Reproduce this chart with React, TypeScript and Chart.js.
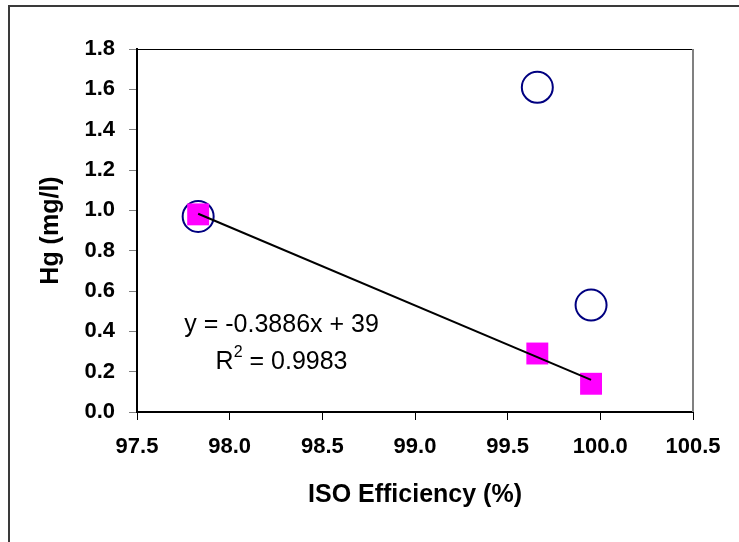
import React, { useEffect, useRef } from "react";
import { Chart, registerables } from "chart.js";

Chart.register(...registerables);

// ---- data ----
const pointX = [97.83, 99.66, 99.95];
const circleY = [0.97, 1.61, 0.53];
const squareY = [0.98, 0.29, 0.14];
const trendSlope = -0.3886;
const trendIntercept = 39;
const trendX = [97.83, 99.95];
const equationText = "y = -0.3886x + 39";
const r2Value = "0.9983";
const xTitle = "ISO Efficiency (%)";
const yTitle = "Hg (mg/l)";

const FONT = "'Liberation Sans', Arial, sans-serif";
const EQ = 25;
const SUP = 16;

const decorPlugin = {
  id: "decor",
  beforeDraw(chart: any) {
    const ctx = chart.ctx;
    ctx.save();
    ctx.fillStyle = "#ffffff";
    ctx.fillRect(0, 0, chart.width, chart.height);
    ctx.strokeStyle = "#3a3a3a";
    ctx.lineWidth = 2;
    ctx.strokeRect(9, 6, chart.width + 20, chart.height + 20);
    ctx.restore();
  },
  afterDraw(chart: any) {
    const ctx = chart.ctx;
    const a = chart.chartArea;
    ctx.save();
    ctx.strokeStyle = "#000";
    ctx.lineWidth = 1;
    ctx.beginPath();
    ctx.moveTo(a.left, a.top + 0.5);
    ctx.lineTo(a.right, a.top + 0.5);
    ctx.stroke();
    ctx.strokeStyle = "#808080";
    ctx.lineWidth = 2;
    ctx.beginPath();
    ctx.moveTo(a.right, a.top);
    ctx.lineTo(a.right, a.bottom);
    ctx.stroke();
    // equation text
    ctx.fillStyle = "#000";
    ctx.font = `${EQ}px ${FONT}`;
    ctx.textAlign = "center";
    ctx.textBaseline = "middle";
    const xs = chart.scales.x;
    const ys = chart.scales.y;
    const cx = xs.getPixelForValue(98.28);
    ctx.fillText(equationText, cx, ys.getPixelForValue(0.43));
    const part1 = "R";
    const part3 = " = " + r2Value;
    const w1 = ctx.measureText(part1).width;
    ctx.font = `${SUP}px ${FONT}`;
    const w2 = ctx.measureText("2").width;
    ctx.font = `${EQ}px ${FONT}`;
    const w3 = ctx.measureText(part3).width;
    const total = w1 + w2 + w3;
    let sx = cx - total / 2;
    const ry = ys.getPixelForValue(0.245);
    ctx.textAlign = "left";
    ctx.fillText(part1, sx, ry);
    sx += w1;
    ctx.font = `${SUP}px ${FONT}`;
    ctx.fillText("2", sx, ry - 10);
    sx += w2;
    ctx.font = `${EQ}px ${FONT}`;
    ctx.fillText(part3, sx, ry);
    ctx.restore();
  },
};

export default function App() {
  const ref = useRef<HTMLCanvasElement>(null);
  useEffect(() => {
    document.body.style.margin = "0";
    const circles = pointX.map((x, i) => ({ x, y: circleY[i] }));
    const squares = pointX.map((x, i) => ({ x, y: squareY[i] }));
    const trend = trendX.map((x) => ({ x, y: trendSlope * x + trendIntercept }));
    const chart = new Chart(ref.current as HTMLCanvasElement, {
      type: "scatter",
      data: {
        datasets: [
          {
            type: "line",
            data: trend,
            borderColor: "#000",
            borderWidth: 2,
            pointRadius: 0,
            fill: false,
            order: 0,
          } as any,
          {
            data: squares,
            pointStyle: "rect",
            pointRadius: 15.5,
            backgroundColor: "#ff00ff",
            borderWidth: 0,
            order: 1,
          },
          {
            data: circles,
            pointStyle: "circle",
            pointRadius: 15.5,
            backgroundColor: "rgba(255,255,255,0)",
            borderColor: "#000080",
            borderWidth: 2,
            order: 2,
          },
        ],
      },
      options: {
        responsive: false,
        animation: false,
        devicePixelRatio: 1,
        layout: { padding: { left: 0, right: 46, top: 49, bottom: 0 } },
        plugins: { legend: { display: false }, tooltip: { enabled: false } },
        scales: {
          x: {
            type: "linear",
            min: 97.5,
            max: 100.5,
            afterFit: (s: any) => {
              s.height = 130;
            },
            ticks: {
              stepSize: 0.5,
              color: "#000",
              padding: 14,
              font: { family: FONT, size: 22, weight: "bold" },
              callback: (v: any) => Number(v).toFixed(1),
              maxRotation: 0,
            },
            grid: { display: true, drawOnChartArea: false, drawTicks: true, tickLength: 8, color: "#000", lineWidth: 1 },
            border: { display: true, color: "#000", width: 2 },
            title: {
              display: true,
              text: xTitle,
              color: "#000",
              font: { family: FONT, size: 25, weight: "bold" },
              padding: { top: 0, bottom: 32 },
            },
          },
          y: {
            type: "linear",
            min: 0,
            max: 1.8,
            afterFit: (s: any) => {
              s.width = 137;
            },
            ticks: {
              stepSize: 0.2,
              color: "#000",
              padding: 14,
              font: { family: FONT, size: 22, weight: "bold" },
              callback: (v: any) => Number(v).toFixed(1),
            },
            grid: { display: true, drawOnChartArea: false, drawTicks: true, tickLength: 8, color: "#808080", lineWidth: 1 },
            border: { display: true, color: "#000", width: 2 },
            title: {
              display: true,
              text: yTitle,
              color: "#000",
              font: { family: FONT, size: 25, weight: "bold" },
              padding: { top: 36, bottom: 0 },
            },
          },
        },
      },
      plugins: [decorPlugin],
    });
    return () => chart.destroy();
  }, []);
  return (
    <div style={{ width: 739, height: 542 }}>
      <canvas ref={ref} width={739} height={542} />
    </div>
  );
}
